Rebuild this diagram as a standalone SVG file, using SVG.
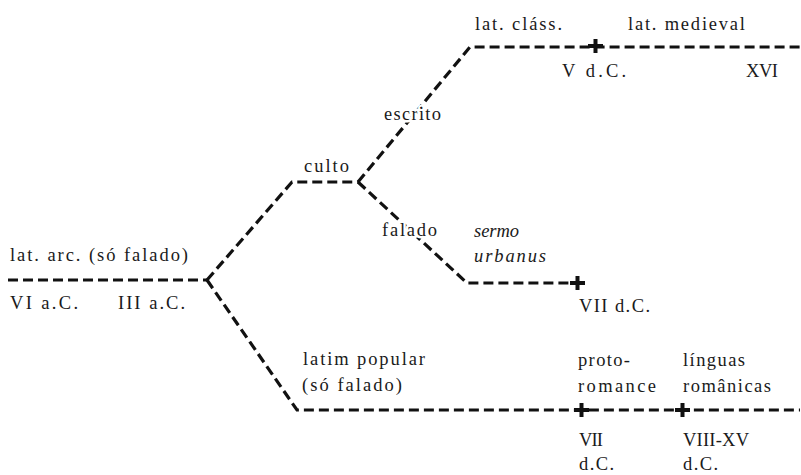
<svg xmlns="http://www.w3.org/2000/svg" width="801" height="475" viewBox="0 0 801 475">
  <style>
    .line { fill: none; stroke: #111; stroke-width: 3.2; stroke-dasharray: 10 5; stroke-linejoin: miter; }
    .cross { fill: none; stroke: #111; stroke-width: 4; }
    text { font-family: "Liberation Serif", "Times New Roman", serif; font-size: 18.5px; fill: #1a1a1a; }
    .it { font-style: italic; }
    .halo { stroke: #fff; stroke-width: 5; paint-order: stroke; stroke-linejoin: round; }
  </style>

  <!-- dashed lineage connectors -->
  <g id="connectors">
    <path class="line" d="M8,280 L207,280"/>
    <path class="line" d="M207,280 L292,182 L358,182"/>
    <path class="line" d="M358,182 L470,47 L800,47"/>
    <path class="line" d="M358,182 L467,283 L577,283"/>
    <path class="line" d="M207,280 L297,410 L800,410"/>
  </g>

  <!-- date markers -->
  <g id="markers">
    <path class="cross" d="M588,46 H603 M595.5,39 V53"/>
    <path class="cross" d="M570,283 H585 M577.5,276 V290"/>
    <path class="cross" d="M574,410 H589 M581.5,403 V417"/>
    <path class="cross" d="M675,410 H690 M682.5,403 V417"/>
  </g>

  <g id="archaic">
    <text x="10" y="261" textLength="178" lengthAdjust="spacing">lat. arc. (só falado)</text>
    <text x="10" y="309" textLength="68" lengthAdjust="spacing">VI a.C.</text>
    <text x="118" y="309" textLength="67" lengthAdjust="spacing">III a.C.</text>
  </g>

  <g id="culto">
    <text x="304" y="172" textLength="45" lengthAdjust="spacing">culto</text>
  </g>

  <g id="escrito">
    <text class="halo" x="384" y="120" textLength="57" lengthAdjust="spacing">escrito</text>
  </g>

  <g id="falado">
    <text class="halo" x="382" y="236" textLength="55" lengthAdjust="spacing">falado</text>
  </g>

  <g id="sermo-urbanus">
    <text class="it" x="474" y="237" textLength="45" lengthAdjust="spacing">sermo</text>
    <text class="it" x="474" y="262" textLength="72" lengthAdjust="spacing">urbanus</text>
    <text x="579" y="312" textLength="71" lengthAdjust="spacing">VII d.C.</text>
  </g>

  <g id="classico">
    <text x="475" y="30" textLength="87" lengthAdjust="spacing">lat. cláss.</text>
    <text x="562" y="77" textLength="64" lengthAdjust="spacing">V d.C.</text>
  </g>

  <g id="medieval">
    <text x="628" y="30" textLength="117" lengthAdjust="spacing">lat. medieval</text>
    <text x="746" y="77" textLength="32" lengthAdjust="spacing">XVI</text>
  </g>

  <g id="popular">
    <text x="303" y="365" textLength="122" lengthAdjust="spacing">latim popular</text>
    <text x="302" y="391" textLength="100" lengthAdjust="spacing">(só falado)</text>
  </g>

  <g id="protoromance">
    <text x="578" y="366" textLength="52" lengthAdjust="spacing">proto-</text>
    <text x="578" y="392" textLength="78" lengthAdjust="spacing">romance</text>
    <text x="579" y="446" textLength="24" lengthAdjust="spacing">VII</text>
    <text x="579" y="470" textLength="35" lengthAdjust="spacing">d.C.</text>
  </g>

  <g id="romanicas">
    <text x="683" y="366" textLength="62" lengthAdjust="spacing">línguas</text>
    <text x="683" y="392" textLength="88" lengthAdjust="spacing">românicas</text>
    <text x="683" y="446" textLength="66" lengthAdjust="spacing">VIII-XV</text>
    <text x="683" y="470" textLength="35" lengthAdjust="spacing">d.C.</text>
  </g>
</svg>
